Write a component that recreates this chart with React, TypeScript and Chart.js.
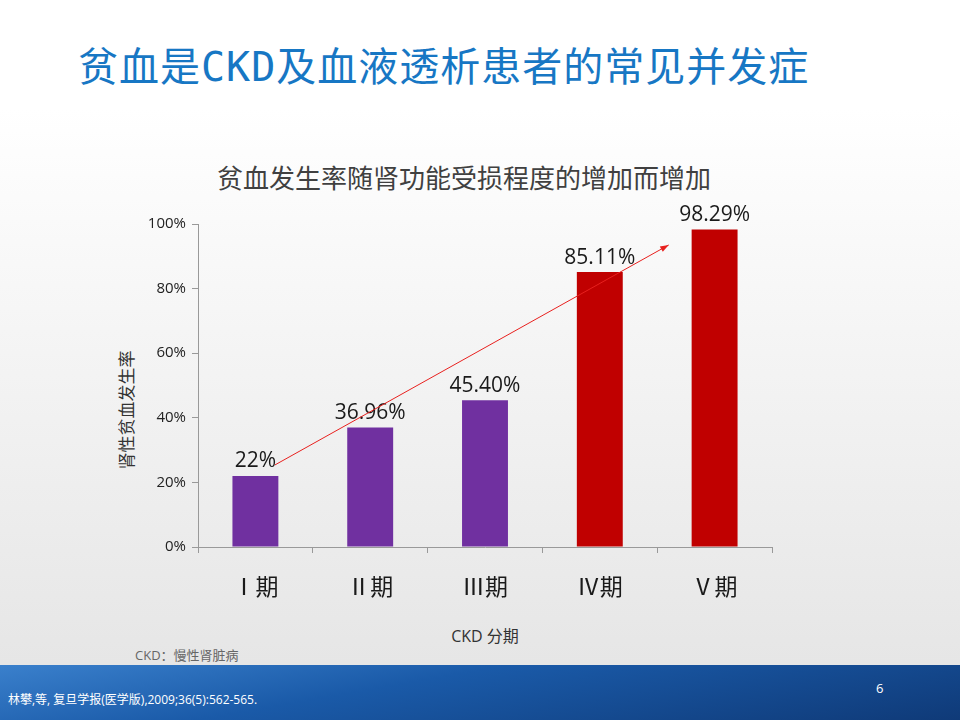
import React, { useEffect, useRef } from "react";
import { Chart, registerables } from "chart.js";
Chart.register(...registerables);

const categories = ["Ⅰ期", "Ⅱ期", "Ⅲ期", "Ⅳ期", "Ⅴ期"];
const values = [22, 36.96, 45.4, 85.11, 98.29];
const valueLabels = ["22%", "36.96%", "45.40%", "85.11%", "98.29%"];
const barColors = ["#7030a0", "#7030a0", "#7030a0", "#c00000", "#c00000"];
const arrowFrom = { x: 0.17, y: 25.4 };
const arrowTo = { x: 3.6, y: 93.5 };

const FONT = "'Open Sans','Noto Sans CJK SC',sans-serif";

export default function App() {
  const ref = useRef<HTMLCanvasElement>(null);
  useEffect(() => {
    document.body.style.margin = "0";
    const labelsPlugin = {
      id: "labels",
      afterDatasetsDraw(chart: any) {
        const ctx = chart.ctx;
        const meta = chart.getDatasetMeta(0);
        ctx.save();
        ctx.font = `21px ${FONT}`;
        ctx.fillStyle = "#1a1a1a";
        ctx.textAlign = "center";
        ctx.textBaseline = "bottom";
        meta.data.forEach((b: any, i: number) => ctx.fillText(valueLabels[i], b.x, b.y - 4));
        const xs = chart.scales.x, ys = chart.scales.y;
        const x1 = xs.getPixelForValue(arrowFrom.x), y1 = ys.getPixelForValue(arrowFrom.y);
        const x2 = xs.getPixelForValue(arrowTo.x), y2 = ys.getPixelForValue(arrowTo.y);
        ctx.strokeStyle = "#e8201e";
        ctx.fillStyle = "#e8201e";
        ctx.lineWidth = 1;
        ctx.beginPath(); ctx.moveTo(x1, y1); ctx.lineTo(x2, y2); ctx.stroke();
        const a = Math.atan2(y2 - y1, x2 - x1);
        ctx.beginPath();
        ctx.moveTo(x2, y2);
        ctx.lineTo(x2 - 9 * Math.cos(a - 0.35), y2 - 9 * Math.sin(a - 0.35));
        ctx.lineTo(x2 - 9 * Math.cos(a + 0.35), y2 - 9 * Math.sin(a + 0.35));
        ctx.closePath(); ctx.fill();
        ctx.restore();
      },
    };
    const chart = new Chart(ref.current!, {
      type: "bar",
      data: {
        labels: categories,
        datasets: [{ data: values, backgroundColor: barColors, barPercentage: 0.4, categoryPercentage: 1 }],
      },
      options: {
        animation: false,
        responsive: false,
        layout: { padding: { left: 100, right: 188, top: 224, bottom: 0 } },
        plugins: { legend: { display: false }, tooltip: { enabled: false } },
        scales: {
          x: {
            afterFit: (s: any) => { s.height = 173; },
            grid: { offset: true, drawOnChartArea: false, tickLength: 6, color: "#999" },
            border: { color: "#999" },
            ticks: { font: { size: 23, family: FONT }, color: "#1a1a1a", padding: 22 },
          },
          y: {
            min: 0, max: 100,
            afterFit: (s: any) => { s.width = 98; },
            grid: { drawOnChartArea: false, tickLength: 6, color: "#999" },
            border: { color: "#999" },
            ticks: { stepSize: 20, callback: (v: any) => v + "%", font: { size: 15, family: FONT }, color: "#222", padding: 6 },
          },
        },
      },
      plugins: [labelsPlugin],
    });
    return () => chart.destroy();
  }, []);
  const abs = (o: any) => ({ position: "absolute" as const, ...o });
  return (
    <div style={{ position: "relative", width: 960, height: 720, overflow: "hidden", background: "linear-gradient(#ffffff 0%, #ffffff 15%, #e6e6e6 92%)", fontFamily: FONT }}>
      <div style={abs({ left: 78, top: 42, fontSize: 40, lineHeight: "50px", letterSpacing: 1, color: "#1777c4", fontFamily: "'DejaVu Sans Mono','Noto Sans CJK SC',monospace", whiteSpace: "nowrap" })}>贫血是CKD及血液透析患者的常见并发症</div>
      <div style={abs({ left: 0, width: 928, top: 158, textAlign: "center", fontSize: 26, color: "#404040" })}>贫血发生率随肾功能受损程度的增加而增加</div>
      <div style={abs({ left: 127 - 80, top: 410, width: 160, textAlign: "center", fontSize: 17, color: "#333", transform: "translate(0,-50%) rotate(-90deg)", lineHeight: "20px" })}>肾性贫血发生率</div>
      <div style={abs({ left: 385, width: 200, top: 623, textAlign: "center", fontSize: 16, color: "#333" })}>CKD 分期</div>
      <div style={abs({ left: 135, top: 645, fontSize: 13, color: "#666" })}>CKD：慢性肾脏病</div>
      <div style={abs({ left: 0, top: 665, width: 960, height: 55, background: "linear-gradient(170deg, #3a80cc 0%, #1a5aa8 40%, #0f3a78 100%)" })} />
      <div style={abs({ left: 8, top: 690, fontSize: 12, color: "#fff" })}>林攀,等, 复旦学报(医学版),2009;36(5):562-565.</div>
      <div style={abs({ left: 876, top: 679, fontSize: 13, color: "#fff" })}>6</div>
      <canvas ref={ref} width={960} height={720} style={abs({ left: 0, top: 0 })} />
    </div>
  );
}
